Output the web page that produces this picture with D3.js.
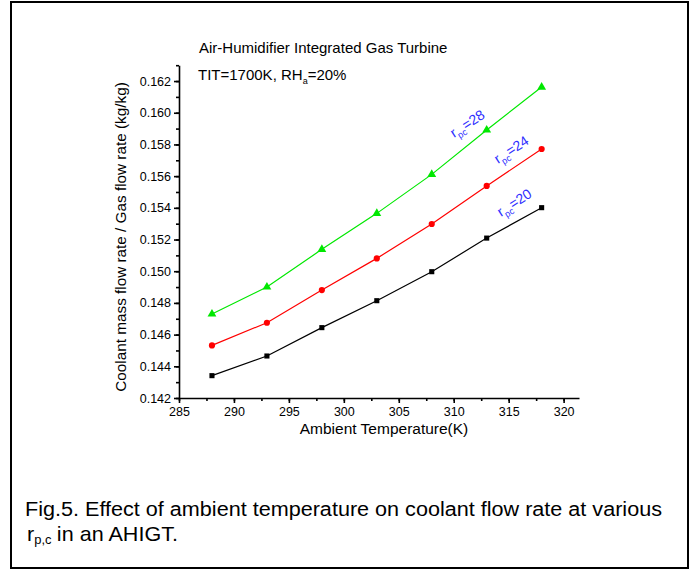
<!DOCTYPE html>
<html>
<head>
	<title>Coolant flow rate vs ambient temperature</title>
<style type="text/css">
	body { margin: 0; background: white; }
	#chart { width: 694px; height: 569px; }
	text { font-family: "Liberation Sans", Arial, sans-serif; }
	.axis path, .axis line { stroke: black; stroke-width: 1.6px; }
	.axis text { font-size: 12.5px; fill: black; }
	.rLabel { font-size: 14px; fill: #2f2fff; }
</style>
</head>
<body>

<svg id="chart"></svg>

<script src="https://cdn.jsdelivr.net/npm/d3@7"></script>
<script>

var temps = [288, 293, 298, 303, 308, 313, 318];

var rpc20 = [0.14341, 0.14465, 0.14644, 0.14814, 0.14997, 0.15209, 0.15401];
var rpc24 = [0.14532, 0.14675, 0.14881, 0.15081, 0.15298, 0.15538, 0.15771];
var rpc28 = [0.14730, 0.14900, 0.15138, 0.15365, 0.15611, 0.15891, 0.16162];

var seriesNames = ['20', '24', '28'];
var seriesColors = ['black', '#ff0000', '#00e800'];
var seriesSymbols = [d3.symbolSquare, d3.symbolCircle, d3.symbolTriangle];
var seriesSizes = [26, 30, 34];

var xTicks = [285, 290, 295, 300, 305, 310, 315, 320];
var yTicks = [0.142, 0.144, 0.146, 0.148, 0.150, 0.152, 0.154, 0.156, 0.158, 0.160, 0.162];

var svg = d3.select('#chart');

// outer frame
svg.append('rect')
	.attr('x', 11).attr('y', 2)
	.attr('width', 677).attr('height', 566)
	.attr('fill', 'none')
	.attr('stroke', 'black')
	.attr('stroke-width', 2);

var x = d3.scaleLinear().domain([285, 321.4]).range([179, 579]);
var y = d3.scaleLinear().domain([0.142, 0.163]).range([398, 65.2]);

// minor ticks first
var xMinor = d3.range(285, 321, 2.5);
var yMinor = d3.range(0.142, 0.1631, 0.001);

svg.append('g')
	.attr('class', 'axis')
	.attr('transform', 'translate(0,' + y(0.142) + ')')
	.call(d3.axisBottom(x).tickValues(xMinor).tickSize(3).tickFormat(''))
	.select('.domain').remove();

svg.append('g')
	.attr('class', 'axis')
	.attr('transform', 'translate(' + x(285) + ',0)')
	.call(d3.axisLeft(y).tickValues(yMinor).tickSize(3).tickFormat(''))
	.select('.domain').remove();

svg.append('g')
	.attr('class', 'axis')
	.attr('transform', 'translate(0,' + y(0.142) + ')')
	.call(d3.axisBottom(x).tickValues(xTicks).tickSize(5).tickSizeOuter(0).tickPadding(4).tickFormat(d3.format('d')));

svg.append('g')
	.attr('class', 'axis')
	.attr('transform', 'translate(' + x(285) + ',0)')
	.call(d3.axisLeft(y).tickValues(yTicks).tickSize(5).tickSizeOuter(0).tickPadding(3).tickFormat(d3.format('.3f')));

// axis titles
svg.append('text')
	.attr('x', 384).attr('y', 434)
	.attr('text-anchor', 'middle')
	.style('font-size', '15.5px')
	.text('Ambient Temperature(K)');

svg.append('text')
	.attr('transform', 'translate(126,237) rotate(-90)')
	.attr('text-anchor', 'middle')
	.style('font-size', '15.3px')
	.text('Coolant mass flow rate / Gas flow rate (kg/kg)');

// inside titles
svg.append('text')
	.attr('x', 199).attr('y', 53)
	.style('font-size', '15px')
	.text('Air-Humidifier Integrated Gas Turbine');

var tit = svg.append('text')
	.attr('x', 198).attr('y', 80)
	.style('font-size', '15px');
tit.append('tspan').text('TIT=1700K, RH');
tit.append('tspan').attr('dy', 4).style('font-size', '9px').text('a');
tit.append('tspan').attr('dy', -4).text('=20%');

// series
var allSeries = [rpc20, rpc24, rpc28];

var line = d3.line()
	.x(function(d, i) { return x(temps[i]); })
	.y(function(d) { return y(d); });

allSeries.forEach(function(vals, s) {
	svg.append('path')
		.datum(vals)
		.attr('d', line)
		.attr('fill', 'none')
		.attr('stroke', seriesColors[s])
		.attr('stroke-width', 1.2);

	svg.selectAll('.pt' + s)
		.data(vals)
		.enter()
		.append('path')
		.attr('class', 'pt' + s)
		.attr('d', d3.symbol().type(seriesSymbols[s]).size(seriesSizes[s]))
		.attr('transform', function(d, i) { return 'translate(' + x(temps[i]) + ',' + y(d) + ')'; })
		.attr('fill', seriesColors[s]);
});

// r_pc labels
var labelPos = [[501, 217], [498, 164], [454, 138]];

seriesNames.forEach(function(name, s) {
	var t = svg.append('text')
		.attr('class', 'rLabel')
		.attr('transform', 'translate(' + labelPos[s][0] + ',' + labelPos[s][1] + ') rotate(-33)');
	t.append('tspan').text('r');
	t.append('tspan').attr('dy', 4).style('font-size', '9px').text('pc');
	t.append('tspan').attr('dy', -4).text('=' + name);
});

// caption, slightly condensed like the original
var cap1 = svg.append('text')
	.attr('x', 25).attr('y', 516)
	.style('font-size', '20px')
	.text('Fig.5. Effect of ambient temperature on coolant flow rate at various');
var squeeze = 637 / cap1.node().getComputedTextLength();
cap1.attr('textLength', 637).attr('lengthAdjust', 'spacingAndGlyphs');

var cap2 = svg.append('g')
	.attr('transform', 'translate(27,541) scale(' + squeeze + ',1)');
var cap2t = cap2.append('text').style('font-size', '20px');
cap2t.append('tspan').text('r');
cap2t.append('tspan').attr('dy', 3).style('font-size', '12px').text('p,c');
cap2t.append('tspan').attr('dy', -3).attr('dx', 5).text('in an AHIGT.');

</script>
</body>
</html>
